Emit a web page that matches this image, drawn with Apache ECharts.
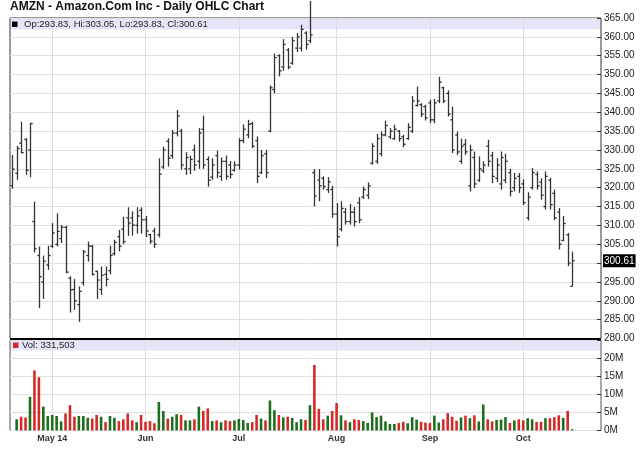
<!DOCTYPE html>
<html>
<head>
<meta charset="utf-8">
<script src="https://cdn.jsdelivr.net/npm/echarts@6/dist/echarts.min.js"></script>
<style>
html,body{margin:0;padding:0;background:#fff;}
#chart{width:640px;height:468px;}
</style>
</head>
<body>
<div id="chart"></div>
<script>
// ---------------- data ----------------
const chartTitle = 'AMZN - Amazon.Com Inc - Daily OHLC Chart';
const firstDate = '2014-04-17';
const marketHolidays = ['2014-04-18', '2014-05-26', '2014-07-04', '2014-09-01'];
const emptyTrailingDays = 6;
const monthTickLabels = ['May 14', 'Jun', 'Jul', 'Aug', 'Sep', 'Oct'];
const priceTicks = {min: 280, max: 365, step: 5};
const volumeTicks = {min: 0, max: 25, step: 5}; // millions

const opens = [
 320.5,323.8,331.8,332.8,330.0,311.0,302.0,295.0,299.5,304.5,
 305.0,306.5,309.5,296.0,293.0,289.0,294.8,302.0,304.5,297.8,
 293.0,297.0,298.0,302.5,307.0,309.0,312.0,312.0,310.0,314.0,
 311.5,307.5,308.5,307.5,325.5,332.3,328.5,334.5,335.0,325.0,
 325.0,330.0,327.0,335.5,327.5,322.8,328.5,323.0,327.0,326.0,
 324.6,326.0,332.5,334.0,337.0,332.5,324.0,329.0,335.0,346.0,
 355.0,352.0,356.5,353.0,357.0,357.0,361.0,359.0,324.0,322.0,
 322.5,319.5,319.5,313.0,309.0,313.5,311.0,313.5,316.0,317.5,
 318.0,326.5,327.0,329.0,334.0,333.5,333.0,335.0,333.5,333.0,
 335.0,341.8,342.0,341.5,342.5,338.0,343.0,346.5,345.0,338.0,
 334.0,327.0,331.5,320.5,328.0,322.0,324.5,331.0,328.5,322.5,
 321.0,322.0,324.0,320.0,323.0,321.0,312.0,320.0,323.5,321.5,
 315.0,322.0,318.5,313.5,306.0,307.5,293.83
];
const highs = [
 328.7,331.1,337.5,333.1,337.2,316.3,304.4,302.0,304.6,310.6,
 313.2,310.1,309.9,296.5,295.8,293.8,303.5,305.7,304.8,298.0,
 299.1,299.1,304.6,306.2,308.8,312.3,314.8,313.7,314.8,314.8,
 312.5,307.8,309.3,327.8,330.9,333.1,335.3,340.6,335.6,329.4,
 328.5,331.4,335.8,339.1,328.3,327.8,329.8,328.0,328.5,327.1,
 327.0,333.1,336.8,338.0,337.5,333.6,330.0,330.0,347.1,355.6,
 355.4,359.4,357.0,360.0,361.0,363.2,361.5,369.5,324.9,324.9,
 323.0,322.8,320.5,315.9,316.4,314.6,315.7,314.9,317.5,320.3,
 321.4,331.8,334.3,334.9,337.8,335.8,336.7,335.3,334.0,337.1,
 344.3,346.8,342.4,342.0,343.3,343.5,349.4,346.8,345.8,341.5,
 334.9,333.0,332.9,331.4,329.6,328.3,327.0,332.7,329.5,327.8,
 329.6,329.0,325.0,323.9,323.9,322.2,318.8,325.2,324.3,322.5,
 324.3,322.6,319.5,314.6,312.5,308.0,303.05
];
const lows = [
 319.7,322.1,329.1,323.4,322.8,302.8,288.1,290.5,298.2,304.0,
 304.4,305.3,297.3,286.9,287.6,284.4,294.0,300.4,296.7,290.5,
 291.6,293.8,297.0,302.0,303.1,305.0,307.2,307.3,307.8,307.8,
 306.9,305.1,304.0,306.8,325.0,325.6,327.7,333.6,324.8,323.4,
 323.6,324.5,325.0,325.0,320.3,322.1,322.5,321.8,322.1,322.4,
 324.3,324.8,331.8,333.1,330.5,321.2,323.6,322.5,334.7,345.0,
 349.5,351.0,351.4,352.6,356.0,356.1,356.6,358.3,315.0,316.4,
 319.5,318.6,312.0,304.4,308.4,310.2,310.2,309.7,310.6,317.0,
 317.0,326.1,326.3,328.3,333.6,332.9,332.7,332.2,330.7,332.7,
 334.5,341.5,338.7,337.8,337.1,337.1,342.4,342.4,338.9,329.2,
 328.7,326.3,328.7,319.0,319.9,321.5,323.9,325.6,321.2,321.5,
 319.5,321.2,317.7,319.0,318.6,315.4,311.3,319.5,319.5,316.8,
 314.2,314.2,311.4,303.6,305.8,299.2,293.83
];
const closes = [
 324.9,330.4,329.3,324.6,337.0,303.8,296.4,300.5,302.0,308.0,
 308.4,309.5,297.6,292.9,290.0,292.5,303.0,304.5,297.0,295.5,
 296.8,295.7,302.0,305.5,304.5,305.7,310.6,310.1,312.5,311.5,
 308.5,305.8,305.0,323.6,330.0,327.8,334.5,339.0,326.0,328.0,
 327.5,326.0,334.5,326.0,322.0,326.0,324.0,327.0,323.0,323.5,
 326.0,332.5,335.5,336.8,331.0,323.0,328.5,324.0,346.5,354.5,
 351.0,358.0,352.0,359.0,360.0,362.0,358.0,360.5,317.8,320.5,
 320.3,321.5,313.0,307.0,314.5,311.0,313.5,311.0,311.5,319.5,
 320.5,331.0,333.0,334.0,336.5,335.0,335.5,333.0,331.5,336.0,
 343.0,343.0,339.5,338.5,338.0,342.5,348.0,343.0,339.5,330.0,
 329.5,331.0,329.5,330.0,321.0,325.0,326.0,327.0,323.0,326.0,
 328.0,327.0,319.0,322.5,320.0,316.0,317.5,324.0,320.5,318.0,
 323.0,315.5,312.0,305.0,310.5,300.0,300.61
];
// volume in millions of shares (first day: no bar visible in the picture)
const volumes = [
 null,3.1,3.8,3.6,9.3,16.6,14.7,6.6,4.0,4.3,
 4.0,2.5,4.7,7.0,3.8,4.0,4.0,3.5,3.3,4.3,
 3.8,2.3,4.0,3.5,2.6,3.1,4.7,2.8,2.3,4.3,
 2.4,2.6,2.0,7.9,5.4,3.3,3.8,4.5,4.3,2.8,
 2.8,3.1,6.6,5.4,6.1,2.6,2.8,2.3,2.8,2.6,
 2.8,3.2,2.9,2.1,2.3,4.3,3.3,2.8,8.3,5.6,
 4.3,3.6,3.8,3.5,2.3,3.1,2.9,7.0,18.1,6.0,
 3.1,4.1,5.4,7.6,4.2,2.8,2.3,3.1,2.9,2.6,
 2.1,5.0,3.7,4.1,2.5,1.8,1.8,2.1,2.4,2.0,
 3.7,3.0,2.4,2.2,2.1,4.1,2.2,3.1,4.8,3.8,
 2.7,3.6,4.1,3.4,4.2,2.5,7.2,3.1,2.5,2.9,
 3.0,3.7,2.1,2.8,3.1,2.8,3.4,3.1,2.4,2.4,
 3.4,3.4,3.7,4.2,3.5,5.4,0.331503
];

// ---------------- helpers ----------------
function makeTradingDates(n) {
  const out = [];
  const d = new Date(firstDate + 'T00:00:00Z');
  while (out.length < n) {
    const s = d.toISOString().slice(0, 10);
    const dow = d.getUTCDay();
    if (dow !== 0 && dow !== 6 && marketHolidays.indexOf(s) < 0) out.push(s);
    d.setUTCDate(d.getUTCDate() + 1);
  }
  return out;
}
const dates = makeTradingDates(closes.length + emptyTrailingDays);
const monthStarts = [];
for (let i = 1; i < dates.length; i++) {
  if (dates[i].slice(5, 7) !== dates[i - 1].slice(5, 7)) monthStarts.push(i);
}
const monthLabelAt = {};
monthStarts.forEach((idx, k) => { if (k < monthTickLabels.length) monthLabelAt[idx] = monthTickLabels[k]; });

const last = closes.length - 1;
const FONT = '"Liberation Sans", Arial, sans-serif';
const UP = '#1f6e1f', DOWN = '#d62a2a', BAR = '#333';

const ohlcData = opens.map((o, i) => [i, o, highs[i], lows[i], closes[i]]);
const volData = volumes.map((v, i) => ({
  value: v,
  itemStyle: {color: closes[i] >= opens[i] ? UP : DOWN}
}));

const headerText = 'Op:' + opens[last].toFixed(2) + ', Hi:' + highs[last].toFixed(2) +
  ', Lo:' + lows[last].toFixed(2) + ', Cl:' + closes[last].toFixed(2);
const volText = 'Vol: ' + Math.round(volumes[last] * 1e6).toLocaleString('en-US');

const GL = 10, GR = 39, GW = 640 - GL - GR;

const splitX = {
  show: true,
  interval: (idx) => monthStarts.indexOf(idx) >= 0,
  alignWithLabel: true,
  lineStyle: {color: '#dedede', width: 1}
};

const chart = echarts.init(document.getElementById('chart'), null, {renderer: 'canvas'});
chart.setOption({
  animation: false,
  backgroundColor: '#fff',
  textStyle: {fontFamily: FONT},
  grid: [
    {left: GL, right: GR, top: 18, height: 320.5, show: true, borderColor: '#333', borderWidth: 1, backgroundColor: 'transparent'},
    {left: GL, right: GR, top: 340, height: 90.5, show: true, borderColor: '#555', borderWidth: 1, backgroundColor: 'transparent'}
  ],
  xAxis: [
    {type: 'category', gridIndex: 0, data: dates, boundaryGap: true,
     axisLine: {show: false}, axisTick: {show: false}, axisLabel: {show: false},
     splitLine: splitX},
    {type: 'category', gridIndex: 1, data: dates, boundaryGap: true,
     axisLine: {show: false}, axisTick: {show: false},
     axisLabel: {show: true, interval: (idx) => monthStarts.indexOf(idx) >= 0,
       formatter: (val, idx) => monthLabelAt[idx] || '',
       fontSize: 9, fontWeight: 'bold', color: '#333', margin: 4, fontFamily: FONT},
     splitLine: splitX}
  ],
  yAxis: [
    {type: 'value', gridIndex: 0, position: 'right', min: priceTicks.min, max: priceTicks.max, interval: priceTicks.step,
     axisLine: {show: false},
     axisTick: {show: true, inside: true, length: 4, lineStyle: {color: '#333'}},
     axisLabel: {margin: 3, fontSize: 10, color: '#222', fontFamily: FONT, formatter: (v) => v.toFixed(2)},
     splitLine: {show: true, lineStyle: {color: '#e0e0e0'}}},
    {type: 'value', gridIndex: 1, position: 'right', min: volumeTicks.min, max: volumeTicks.max, interval: volumeTicks.step,
     axisLine: {show: false},
     axisTick: {show: true, inside: true, length: 4, lineStyle: {color: '#333'}},
     axisLabel: {margin: 3, fontSize: 10, color: '#222', fontFamily: FONT,
       formatter: (v) => v === volumeTicks.max ? '' : v + 'M'},
     splitLine: {show: true, lineStyle: {color: '#e0e0e0'}}}
  ],
  series: [
    {
      type: 'custom', xAxisIndex: 0, yAxisIndex: 0, clip: false,
      encode: {x: 0, y: [1, 2, 3, 4]},
      data: ohlcData,
      renderItem: function (params, api) {
        const i = api.value(0);
        const pH = api.coord([i, api.value(2)]);
        const pL = api.coord([i, api.value(3)]);
        const pO = api.coord([i, api.value(1)]);
        const pC = api.coord([i, api.value(4)]);
        const x = Math.round(pH[0]) + 0.5;
        const st = {stroke: BAR, lineWidth: 1.3};
        return {
          type: 'group',
          children: [
            {type: 'line', shape: {x1: x, y1: pH[1], x2: x, y2: pL[1]}, style: st},
            {type: 'line', shape: {x1: x - 2.2, y1: pO[1], x2: x, y2: pO[1]}, style: st},
            {type: 'line', shape: {x1: x, y1: pC[1], x2: x + 2.2, y2: pC[1]}, style: st}
          ]
        };
      },
      markLine: {
        silent: true, symbol: 'none', animation: false,
        lineStyle: {color: 'rgba(0,0,0,0)', width: 0},
        label: {show: true, position: 'end', distance: 2, backgroundColor: '#000', color: '#fff',
          fontSize: 10, fontFamily: FONT, padding: [2, 1, 1, 1],
          formatter: () => closes[last].toFixed(2)},
        data: [{yAxis: closes[last]}]
      }
    },
    {
      type: 'bar', xAxisIndex: 1, yAxisIndex: 1, barWidth: 2.6,
      data: volData
    }
  ],
  graphic: [
    {type: 'text', x: 10, y: 7, z: 10,
     style: {text: chartTitle, font: 'bold 12px ' + FONT, fill: '#111', verticalAlign: 'middle'}},
    {type: 'rect', z: -1, shape: {x: 10.5, y: 19, width: GW - 1, height: 10.5}, style: {fill: '#e5e5f9'}},
    {type: 'rect', z: 10, shape: {x: 12, y: 21.5, width: 5.5, height: 5.5}, style: {fill: '#000'}},
    {type: 'text', x: 24, y: 24.5, z: 10,
     style: {text: headerText, font: '9.5px ' + FONT, fill: '#222', verticalAlign: 'middle'}},
    {type: 'rect', z: -1, shape: {x: 10.5, y: 340.5, width: GW - 1, height: 10}, style: {fill: '#e5e5f9'}},
    {type: 'rect', z: 10, shape: {x: 13, y: 342.5, width: 5.5, height: 5.5}, style: {fill: '#d62a2a'}},
    {type: 'text', x: 22, y: 345.5, z: 10,
     style: {text: volText, font: '9.5px ' + FONT, fill: '#222', verticalAlign: 'middle'}},
    {type: 'line', z: 20, shape: {x1: GL, y1: 339, x2: GL + GW, y2: 339}, style: {stroke: '#000', lineWidth: 2}}
  ]
});
</script>
</body>
</html>
